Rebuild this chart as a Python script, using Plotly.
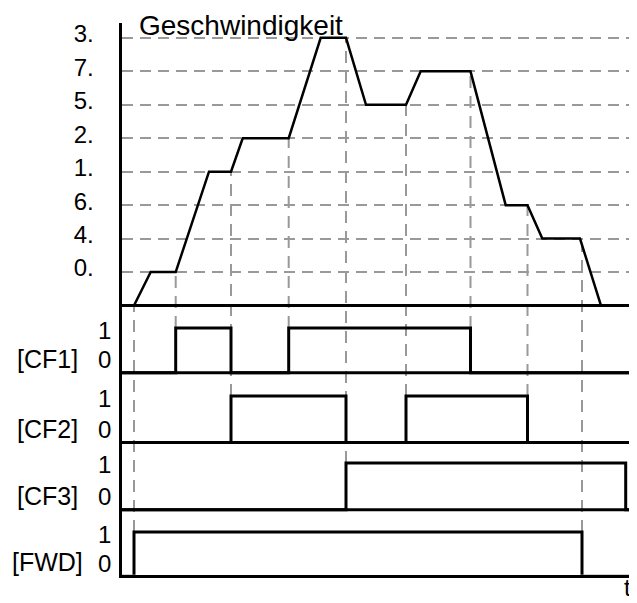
import numpy as np
import plotly.graph_objects as go

# ---------------- data ----------------
# speed profile: time (arbitrary units) and speed level index
speed_t = [14, 30.7, 55.7, 89, 111, 122.7, 168.7, 200.7, 226, 246, 286, 300.7,
           350.5, 385.7, 407.5, 422.3, 460, 481]
speed_lvl = [0, 1, 1, 4, 4, 5, 5, 8, 8, 6, 6, 7, 7, 3, 3, 2, 2, 0]

# speed axis tick labels (levels 1..8)
level_vals = [1, 2, 3, 4, 5, 6, 7, 8]
level_labels = ["0.", "4.", "6.", "1.", "2.", "5.", "7.", "3."]

# digital input signals: switching times and states
sig_names = ["[CF1]", "[CF2]", "[CF3]", "[FWD]"]
cf1_t = [0, 55.7, 111, 168.7, 350.5, 517]
cf1_v = [0, 1, 0, 1, 0, 0]
cf2_t = [0, 111, 226, 286, 407.5, 517]
cf2_v = [0, 1, 0, 1, 0, 0]
cf3_t = [0, 226, 505.7, 517]
cf3_v = [0, 1, 0, 0]
fwd_t = [0, 14, 462, 517]
fwd_v = [0, 1, 0, 0]

# dashed event markers: time and the signal they drop to
marker_t = [14, 55.7, 111, 168.7, 226, 286, 350.5, 407.5, 462]
marker_sig = [3, 0, 1, 0, 2, 1, 0, 1, 3]

# ---------------- layout constants ----------------
WIN_W, WIN_H = 637, 603
OFF = 8                      # page body margin
W, H = WIN_W - OFF, WIN_H - OFF
PX_PER_LVL = 33.625          # pixels per speed level
SPEED_BASE_PX = 304          # window row of speed baseline
sig_base_px = [371.7, 441.7, 509.3, 576]
sig_amp_px = [45, 46.7, 47, 44.3]
LW = 3


def lvl(px):
    return (SPEED_BASE_PX - px) / PX_PER_LVL


sig_base = [lvl(p) for p in sig_base_px]
sig_high = [lvl(p - a) for p, a in zip(sig_base_px, sig_amp_px)]

AX_LEFT_PX = 120
AX_BOTTOM_PX = 576
AX_TOP_PX = 20

fig = go.Figure()

# dashed event markers
mx, my = [], []
top_vals = np.interp(marker_t, speed_t, speed_lvl)
for t, s, top in zip(marker_t, marker_sig, top_vals):
    mx += [t, t, None]
    my += [sig_high[s], top, None]
fig.add_trace(go.Scatter(x=mx, y=my, mode="lines",
                         line=dict(color="#999999", width=2, dash="12px,8px"),
                         hoverinfo="skip", showlegend=False))

# speed curve
fig.add_trace(go.Scatter(x=speed_t, y=speed_lvl, mode="lines",
                         line=dict(color="black", width=2.5),
                         showlegend=False))

# signals
for i, (tt, vv) in enumerate([(cf1_t, cf1_v), (cf2_t, cf2_v), (cf3_t, cf3_v), (fwd_t, fwd_v)]):
    yy = [sig_base[i] + v * (sig_high[i] - sig_base[i]) for v in vv]
    fig.add_trace(go.Scatter(x=tt, y=yy, mode="lines", line_shape="hv",
                             line=dict(color="black", width=LW),
                             showlegend=False))

# baselines (speed + first three signals; FWD baseline is the x axis line)
shapes = []
for b in [0] + sig_base[:3]:
    shapes.append(dict(type="line", xref="x domain", x0=0, x1=1, yref="y", y0=b, y1=b,
                       line=dict(color="black", width=LW)))


def px2x(px):
    return (px - OFF) / W


def px2y(py):
    return 1 - (py - OFF) / H


ann = []
ann.append(dict(text="Geschwindigkeit", x=px2x(137), y=px2y(23), xref="paper", yref="paper",
                xanchor="left", yanchor="middle", showarrow=False,
                font=dict(family="Arial", size=28, color="black")))
ann.append(dict(text="t", x=px2x(627), y=px2y(WIN_H), xref="paper", yref="paper",
                xanchor="center", yanchor="bottom", showarrow=False,
                font=dict(family="Arial", size=24, color="black")))
for i, name in enumerate(sig_names):
    hi = sig_base_px[i] - sig_amp_px[i]
    ann.append(dict(text="1", x=px2x(113), y=px2y(hi + 2), xref="paper", yref="paper",
                    xanchor="right", yanchor="middle", showarrow=False,
                    font=dict(family="Arial", size=24, color="black")))
    ann.append(dict(text="0", x=px2x(113), y=px2y(sig_base_px[i] - 13), xref="paper", yref="paper",
                    xanchor="right", yanchor="middle", showarrow=False,
                    font=dict(family="Arial", size=24, color="black")))
    ann.append(dict(text=name, x=px2x(47), y=px2y(sig_base_px[i] - 14), xref="paper", yref="paper",
                    xanchor="center", yanchor="middle", showarrow=False,
                    font=dict(family="Arial", size=25, color="black")))

half = LW / 2
fig.update_layout(
    width=W, height=H,
    margin=dict(l=0, r=0, t=0, b=0),
    paper_bgcolor="white", plot_bgcolor="white",
    xaxis=dict(domain=[px2x(AX_LEFT_PX + half), 1],
               range=[half, WIN_W - AX_LEFT_PX],
               showgrid=False, zeroline=False, showticklabels=False, ticks="",
               showline=True, linecolor="black", linewidth=LW, fixedrange=True),
    yaxis=dict(domain=[px2y(AX_BOTTOM_PX - half), px2y(AX_TOP_PX)],
               range=[lvl(AX_BOTTOM_PX - half), lvl(AX_TOP_PX)],
               tickvals=level_vals, ticktext=level_labels,
               tickfont=dict(family="Arial", size=24, color="black"),
               ticks="", ticklabelstandoff=20, ticklabelshift=-4,
               showgrid=True, gridcolor="#999999", gridwidth=2, griddash="11px,7px",
               zeroline=False, showline=True, linecolor="black", linewidth=LW,
               fixedrange=True),
    shapes=shapes,
    annotations=ann,
)

fig.write_html("out.html")
